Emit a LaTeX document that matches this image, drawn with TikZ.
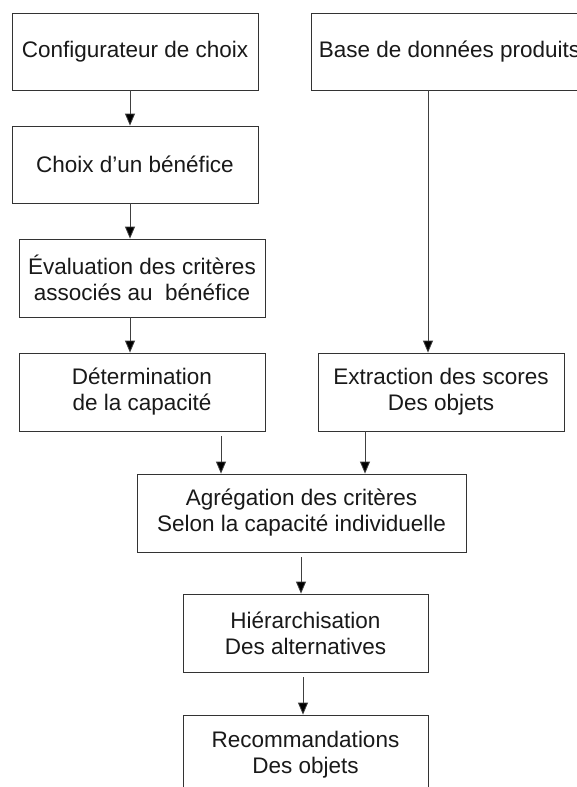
\documentclass[tikz,border=0pt]{standalone}
\usepackage{fontspec}
\setmainfont{Liberation Sans}
\usetikzlibrary{arrows.meta}
\begin{document}
\begin{tikzpicture}[x=1pt,y=-1pt,
  box/.style={draw=black!80,line width=0.8pt,rectangle,inner sep=0pt,align=center,
    font=\fontsize{22.5}{26}\selectfont,text=black!90},
  arr/.style={draw=black!75,line width=0.8pt,-{Triangle[length=12pt,width=10pt,fill=black]}}]
\useasboundingbox (0,0) rectangle (577,787);
\clip (0,0) rectangle (577,787);
\fill[white] (0,0) rectangle (577,787);
\node[box,minimum width=246pt,minimum height=77pt] (conf) at (135,51.5) {Configurateur de choix};
\node[box,minimum width=246pt,minimum height=77pt] (choix) at (135,164.5) {Choix d’un bénéfice};
\node[box,minimum width=246pt,minimum height=78pt] (eval) at (142,278) {Évaluation des critères\\associés au~ bénéfice};
\node[box,minimum width=246pt,minimum height=78pt] (det) at (142,392) {Détermination\\de la capacité};
\node[box,minimum width=277pt,minimum height=77pt] (base) at (449.5,51.5) {Base de données produits};
\node[box,minimum width=246pt,minimum height=78pt] (ext) at (441,392) {Extraction des scores\\Des objets};
\node[box,minimum width=329pt,minimum height=78pt] (agr) at (301.5,513) {Agrégation des critères\\Selon la capacité individuelle};
\node[box,minimum width=245pt,minimum height=78pt] (hier) at (305.5,633) {Hiérarchisation\\Des alternatives};
\node[box,minimum width=245pt,minimum height=79pt] (rec) at (305.5,754.5) {Recommandations\\Des objets};
\draw[arr] ([xshift=-5pt]conf.south) -- ([xshift=-5pt]choix.north);
\draw[arr] ([xshift=-5pt]choix.south) -- ([xshift=-12pt]eval.north);
\draw[arr] ([xshift=-12pt]eval.south) -- ([xshift=-12pt]det.north);
\draw[arr] ([xshift=-21.5pt]base.south) -- ([xshift=-13pt]ext.north);
\draw[arr] ([xshift=79pt,yshift=-5pt]det.south) -- ([xshift=-80.5pt]agr.north);
\draw[arr] ([xshift=-76pt]ext.south) -- ([xshift=63.5pt]agr.north);
\draw[arr] ([xshift=-0.5pt,yshift=-5pt]agr.south) -- ([xshift=-4.5pt]hier.north);
\draw[arr] ([xshift=-2.5pt,yshift=-5pt]hier.south) -- ([xshift=-2.5pt]rec.north);
\end{tikzpicture}
\end{document}
